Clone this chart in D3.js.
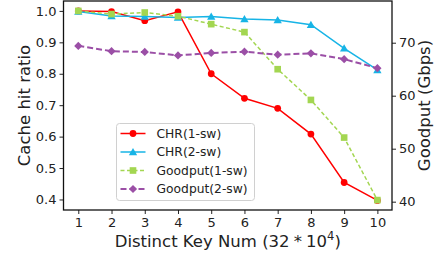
<!DOCTYPE html>
<html>
<head>
<meta charset="utf-8">
<script src="https://cdn.jsdelivr.net/npm/d3@7"></script>
<style>
  body { margin: 0; background: #fff; }
  svg { display: block; font-family: "DejaVu Sans", sans-serif; }
</style>
</head>
<body>
<div id="chart"></div>
<script>
// data
const keyNum = [1, 2, 3, 4, 5, 6, 7, 8, 9, 10];
const chr1sw = [1.0, 0.998, 0.969, 0.997, 0.80, 0.722, 0.69, 0.608, 0.454, 0.397];
const chr2sw = [0.998, 0.984, 0.982, 0.979, 0.982, 0.974, 0.971, 0.956, 0.881, 0.812];
const goodput1sw = [76.0, 75.4, 75.7, 75.0, 73.5, 72.0, 65.0, 59.2, 52.1, 40.3];
const goodput2sw = [69.4, 68.4, 68.25, 67.6, 68.06, 68.3, 67.74, 68.0, 66.9, 65.2];
const leftTicks = [0.4, 0.5, 0.6, 0.7, 0.8, 0.9, 1.0];
const rightTicks = [40, 50, 60, 70];

const W = 448, H = 256;
const margin = { top: 1, right: 56, bottom: 46, left: 63.5 };
const width = W - margin.left - margin.right;
const height = H - margin.top - margin.bottom;

const svg = d3.select('#chart').append('svg')
  .attr('width', W)
  .attr('height', H);

const g = svg.append('g')
  .attr('transform', `translate(${margin.left},${margin.top})`);

const x = d3.scaleLinear().domain([0.555, 10.44]).range([0, width]);
const yL = d3.scaleLinear().domain([0.3665, 1.0315]).range([height, 0]);
const yR = d3.scaleLinear().domain([38.43, 77.87]).range([height, 0]);

const series = [
  { name: 'CHR(1-sw)', values: chr1sw, scale: yL, color: '#ff0000', dash: null, sw: 1.5, marker: 'circle' },
  { name: 'CHR(2-sw)', values: chr2sw, scale: yL, color: '#17b4e6', dash: null, sw: 1.5, marker: 'triangle' },
  { name: 'Goodput(1-sw)', values: goodput1sw, scale: yR, color: '#a3d651', dash: '4,2.5', sw: 1.5, marker: 'square' },
  { name: 'Goodput(2-sw)', values: goodput2sw, scale: yR, color: '#9b4fa6', dash: '6,3', sw: 2, marker: 'diamond' }
];

function symbolPath(type) {
  if (type === 'circle') return d3.symbol(d3.symbolCircle, 36)();
  if (type === 'triangle') return d3.symbol(d3.symbolTriangle, 30)();
  if (type === 'square') return d3.symbol(d3.symbolSquare, 44)();
  return d3.symbol(d3.symbolSquare, 34)();
}

function drawMarker(sel, s, cx, cy) {
  sel.append('path')
    .attr('d', symbolPath(s.marker))
    .attr('fill', s.color)
    .attr('transform', `translate(${cx},${cy})` + (s.marker === 'diamond' ? ' rotate(45)' : '') +
      (s.marker === 'triangle' ? ' translate(0,0.8)' : ''));
}

// lines + markers
series.forEach(s => {
  const line = d3.line()
    .x((d, i) => x(keyNum[i]))
    .y(d => s.scale(d));
  g.append('path')
    .datum(s.values)
    .attr('fill', 'none')
    .attr('stroke', s.color)
    .attr('stroke-width', s.sw)
    .attr('stroke-dasharray', s.dash)
    .attr('d', line);
  const mg = g.append('g');
  s.values.forEach((v, i) => drawMarker(mg, s, x(keyNum[i]), s.scale(v)));
});

// axes
const fmtL = d3.format('.1f');
const xAxis = g.append('g')
  .attr('transform', `translate(0,${height})`)
  .call(d3.axisBottom(x).tickValues(keyNum).tickSize(4).tickPadding(4).tickSizeOuter(0));
const leftAxis = g.append('g')
  .call(d3.axisLeft(yL).tickValues(leftTicks).tickFormat(fmtL).tickSize(4).tickPadding(3).tickSizeOuter(0));
const rightAxis = g.append('g')
  .attr('transform', `translate(${width},0)`)
  .call(d3.axisRight(yR).tickValues(rightTicks).tickSize(4).tickPadding(3).tickSizeOuter(0));

[xAxis, leftAxis, rightAxis].forEach(a => {
  a.selectAll('.domain').remove();
  a.selectAll('.tick line').attr('stroke', '#222').attr('stroke-width', 1);
  a.selectAll('.tick text').attr('fill', '#222').style('font-size', '13px')
    .style('font-family', '"DejaVu Sans", sans-serif');
});

// frame
g.append('rect')
  .attr('width', width)
  .attr('height', height)
  .attr('fill', 'none')
  .attr('stroke', '#111')
  .attr('stroke-width', 1.3);

// axis labels
const xl = svg.append('text')
  .attr('x', margin.left + width / 2)
  .attr('y', 247)
  .attr('text-anchor', 'middle')
  .attr('fill', '#222')
  .style('font-size', '16.5px');
xl.append('tspan').text('Distinct Key Num (32\u2005*\u200510');
xl.append('tspan').attr('dy', -7).style('font-size', '11.5px').text('4');
xl.append('tspan').attr('dy', 7).text(')');

svg.append('text')
  .attr('transform', `translate(30,${margin.top + height / 2}) rotate(-90)`)
  .attr('text-anchor', 'middle')
  .attr('fill', '#222')
  .style('font-size', '16.5px')
  .text('Cache hit ratio');

svg.append('text')
  .attr('transform', `translate(430,${margin.top + height / 2}) rotate(-90)`)
  .attr('text-anchor', 'middle')
  .attr('fill', '#222')
  .style('font-size', '16.5px')
  .text('Goodput (Gbps)');

// legend
const legend = svg.append('g').attr('transform', 'translate(116.5,123.5)');
legend.append('rect')
  .attr('width', 138)
  .attr('height', 77)
  .attr('rx', 3)
  .attr('fill', 'rgba(255,255,255,0.8)')
  .attr('stroke', '#d0d0d0')
  .attr('stroke-width', 1);
series.forEach((s, i) => {
  const row = legend.append('g').attr('transform', `translate(0,${10 + i * 18.5})`);
  row.append('line')
    .attr('x1', 4).attr('x2', 29)
    .attr('stroke', s.color)
    .attr('stroke-width', s.sw)
    .attr('stroke-dasharray', s.dash);
  drawMarker(row, s, 16.5, 0);
  row.append('text')
    .attr('x', 40)
    .attr('dy', '0.35em')
    .attr('fill', '#222')
    .style('font-size', '12.3px')
    .text(s.name);
});
</script>
</body>
</html>
